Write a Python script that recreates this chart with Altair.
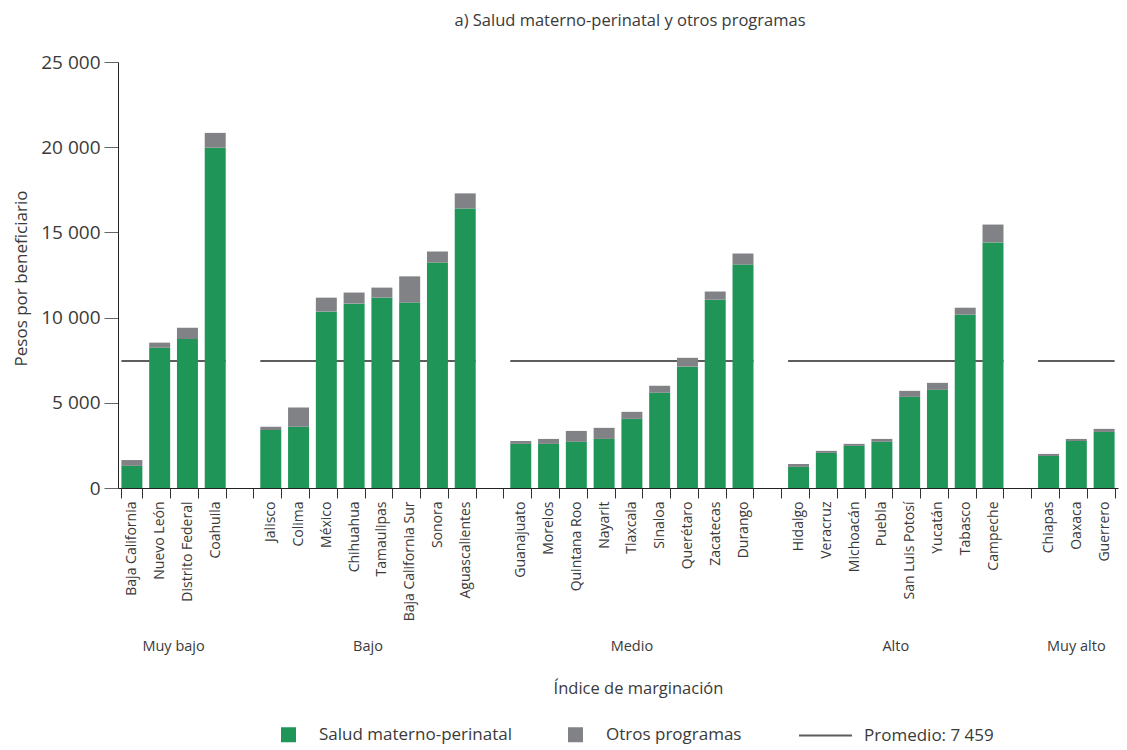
import altair as alt
import pandas as pd

FONT = "Open Sans"
TXT = "#3a3a3a"
VERDE = "#1f9558"
GRIS = "#808285"
LINEA = "#5d5d5d"

grupos = ["Muy bajo", "Bajo", "Medio", "Alto", "Muy alto"]
estados_por_grupo = [
    ["Baja California", "Nuevo León", "Distrito Federal", "Coahuila"],
    ["Jalisco", "Colima", "México", "Chihuahua", "Tamaulipas",
     "Baja California Sur", "Sonora", "Aguascalientes"],
    ["Guanajuato", "Morelos", "Quintana Roo", "Nayarit", "Tlaxcala",
     "Sinaloa", "Querétaro", "Zacatecas", "Durango"],
    ["Hidalgo", "Veracruz", "Michoacán", "Puebla", "San Luis Potosí",
     "Yucatán", "Tabasco", "Campeche"],
    ["Chiapas", "Oaxaca", "Guerrero"],
]
salud = [
    [1300, 8230, 8750, 19970],
    [3410, 3590, 10350, 10820, 11170, 10880, 13230, 16400],
    [2590, 2590, 2710, 2880, 4060, 5590, 7120, 11050, 13110],
    [1240, 2060, 2470, 2710, 5350, 5760, 10170, 14410],
    [1880, 2760, 3290],
]
otros = [
    [340, 300, 660, 870],
    [180, 1130, 820, 650, 590, 1540, 650, 890],
    [170, 290, 640, 650, 410, 410, 520, 480, 650],
    [170, 120, 120, 170, 350, 410, 410, 1050],
    [120, 120, 180],
]
promedio = 7459
serie_salud = "Salud materno-perinatal"
serie_otros = "Otros programas"
serie_prom = "Promedio: 7 459"

# category domain with blank separators between groups
dominio = []
for i, ests in enumerate(estados_por_grupo):
    dominio += ests
    if i < len(estados_por_grupo) - 1:
        dominio.append(" " * (i + 1))

filas = []
for g, ests, s_vals, o_vals in zip(grupos, estados_por_grupo, salud, otros):
    for e, s, o in zip(ests, s_vals, o_vals):
        filas.append({"estado": e, "serie": serie_salud, "valor": s, "orden": 0})
        filas.append({"estado": e, "serie": serie_otros, "valor": o, "orden": 1})
df_barras = pd.DataFrame(filas)

df_prom = pd.DataFrame({
    "inicio": [ests[0] for ests in estados_por_grupo],
    "fin": [ests[-1] for ests in estados_por_grupo],
    "valor": [promedio] * len(grupos),
    "serie": [serie_prom] * len(grupos),
})

pares = [(g, ests[len(ests) // 2]) for g, ests in zip(grupos, estados_por_grupo) if len(ests) % 2 == 0]
impares = [(g, ests[len(ests) // 2]) for g, ests in zip(grupos, estados_por_grupo) if len(ests) % 2 == 1]
df_par = pd.DataFrame(pares, columns=["grupo", "ancla"])
df_impar = pd.DataFrame(impares, columns=["grupo", "ancla"])

W, H = 1000, 426
PI = 0.245
xscale = alt.Scale(domain=dominio, paddingInner=PI, paddingOuter=PI / 2)
yscale = alt.Scale(domain=[0, 25000], nice=False)

step = W / len(dominio)
half_gap = step * PI / 2

x_axis = alt.Axis(title="Índice de marginación", titleX=520, titleY=200,
                  titleBaseline="middle", titleFontSize=16.5,
                  titleFontWeight="normal", titleFont=FONT, titleColor=TXT,
                  labelAngle=-90, labelFontSize=14, labelFont=FONT,
                  labelColor=TXT, labelPadding=3, tickBand="extent",
                  tickSize=10, tickColor="#333", domainColor="#222",
                  labelLimit=0)
y_axis = alt.Axis(title="Pesos por beneficiario",
                  values=[0, 5000, 10000, 15000, 20000, 25000],
                  labelExpr="replace(format(datum.value, ','), ',', ' ')",
                  tickSize=14, tickColor="#666", domainColor="#222",
                  labelFontSize=19, labelFont=FONT, labelColor=TXT,
                  labelPadding=4, grid=False,
                  titleX=-97, titleY=216, titleBaseline="middle",
                  titleFontSize=17, titleFontWeight="normal",
                  titleFont=FONT, titleColor=TXT)

barras = alt.Chart(df_barras).mark_bar().encode(
    x=alt.X("estado:N", scale=xscale, sort=dominio, axis=x_axis),
    y=alt.Y("valor:Q", stack="zero", scale=yscale, axis=y_axis),
    color=alt.Color("serie:N",
                    scale=alt.Scale(domain=[serie_salud, serie_otros], range=[VERDE, GRIS]),
                    legend=alt.Legend(title=None, orient="none", legendX=162, legendY=664,
                                      direction="horizontal", symbolType="square",
                                      symbolSize=225, symbolStrokeWidth=0,
                                      labelFontSize=17, labelFont=FONT, labelColor=TXT,
                                      labelOffset=22, columnPadding=54, padding=0,
                                      labelLimit=0)),
    order=alt.Order("orden:Q", sort="ascending"),
)

regla = alt.Chart(df_prom).mark_rule(strokeWidth=2).encode(
    x=alt.X("inicio:N", scale=xscale, axis=x_axis, bandPosition=0),
    x2=alt.X2("fin:N", bandPosition=1),
    y=alt.Y("valor:Q", scale=yscale, axis=y_axis),
    stroke=alt.Stroke("serie:N", scale=alt.Scale(range=[LINEA]),
                      legend=alt.Legend(title=None, orient="none", legendX=680, legendY=646,
                                        symbolType="stroke", symbolSize=2809,
                                        symbolStrokeWidth=2,
                                        labelFontSize=17, labelFont=FONT, labelColor=TXT,
                                        labelOffset=11, padding=0, labelLimit=0)),
)

texto_par = alt.Chart(df_par).mark_text(fontSize=14.5, font=FONT, color=TXT,
                                        dx=-half_gap, baseline="middle").encode(
    x=alt.X("ancla:N", scale=xscale, axis=x_axis, bandPosition=0),
    y=alt.value(585),
    text="grupo:N",
)
texto_impar = alt.Chart(df_impar).mark_text(fontSize=14.5, font=FONT, color=TXT,
                                            baseline="middle").encode(
    x=alt.X("ancla:N", scale=xscale, axis=x_axis, bandPosition=0.5),
    y=alt.value(585),
    text="grupo:N",
)

chart = alt.layer(regla, barras, texto_par, texto_impar).properties(
    width=W, height=H,
    title=alt.TitleParams("a) Salud materno-perinatal y otros programas",
                          fontSize=16.5, font=FONT, fontWeight="normal", color=TXT,
                          anchor="middle", frame="group", dx=12, offset=8,
                          baseline="bottom"),
    autosize=alt.AutoSizeParams(type="none"),
    padding={"left": 110, "top": 54, "right": 1, "bottom": 258},
).resolve_scale(color="independent", stroke="independent").configure_view(stroke=None)

chart.save("out.html", embed_options={"renderer": "svg", "actions": False})
